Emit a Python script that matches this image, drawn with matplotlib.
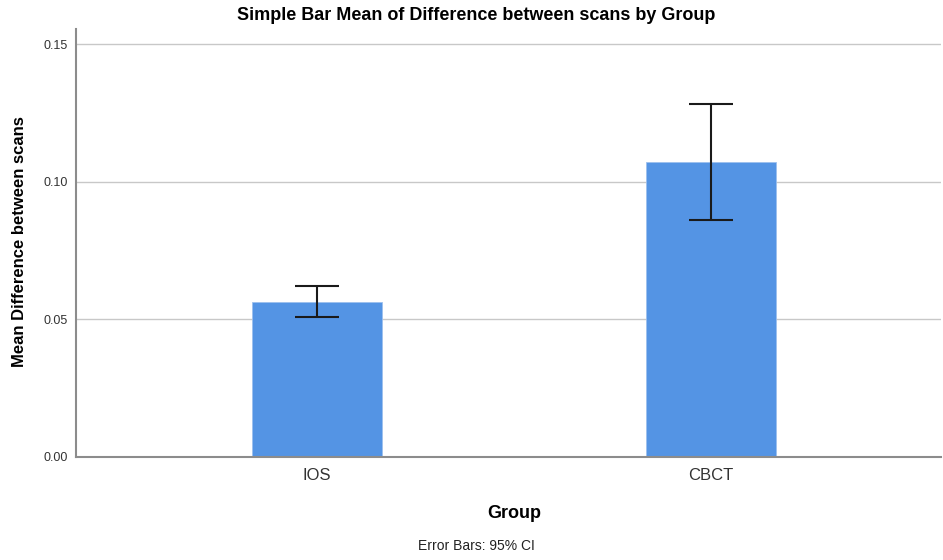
import matplotlib
matplotlib.use("Agg")
import matplotlib.pyplot as plt
import numpy as np

plt.rcParams['font.family'] = ['Liberation Sans', 'DejaVu Sans']

groups = ["IOS", "CBCT"]
means = [0.0563, 0.1072]
ci_lower = [0.0508, 0.0861]
ci_upper = [0.0621, 0.1282]
yticks = [0.00, 0.05, 0.10, 0.15]
ytick_labels = ["0.00", "0.05", "0.10", "0.15"]

W, H = 943, 560
fig = plt.figure(figsize=(W / 100, H / 100), dpi=100)
ax_l, ax_r, ax_b, ax_t = 76, 941, 456.7, 29.3
ax = fig.add_axes([ax_l / W, (H - ax_b) / H, (ax_r - ax_l) / W, (ax_b - ax_t) / H])

x = np.arange(len(groups))
means_a = np.array(means)
yerr = np.vstack([means_a - np.array(ci_lower), np.array(ci_upper) - means_a])

ax.bar(x, means, width=0.33, color="#5494E4", edgecolor="#9dc0ee", linewidth=0.6, zorder=2)
ax.errorbar(x, means, yerr=yerr, fmt="none", ecolor="#1a1a1a", elinewidth=1.5,
            capsize=15.5, capthick=1.5, zorder=3)

ax.set_xlim(-0.6104, 1.583)
ax.set_ylim(0, 0.1555)
ax.set_yticks(yticks)
ax.set_yticklabels(ytick_labels)
ax.set_xticks(x)
ax.set_xticklabels(groups)

ax.yaxis.grid(True, color="#c8c8c8", linewidth=1.0, zorder=0)
ax.set_axisbelow(True)
for s in ["top", "right"]:
    ax.spines[s].set_visible(False)
for s in ["left", "bottom"]:
    ax.spines[s].set_color("#8c8c8c")
    ax.spines[s].set_linewidth(1.5)

ax.tick_params(axis="y", length=0, pad=6, labelsize=9, labelcolor="#333333")
ax.tick_params(axis="x", length=0, pad=8, labelsize=12, labelcolor="#333333")

ax.set_ylabel("Mean Difference between scans", fontsize=12, fontweight="bold", va="center")
ax.yaxis.set_label_coords((20 - ax_l) / (ax_r - ax_l), (ax_b - 242) / (ax_b - ax_t))
ax.set_xlabel("Group", fontsize=13, fontweight="bold", va="center")
ax.xaxis.set_label_coords((514 - ax_l) / (ax_r - ax_l), (ax_b - 514) / (ax_b - ax_t))

fig.text(476 / W, (H - 16) / H, "Simple Bar Mean of Difference between scans by Group",
         ha="center", va="center", fontsize=13, fontweight="bold")
fig.text(476 / W, (H - 546) / H, "Error Bars: 95% CI", ha="center", va="center", fontsize=10,
         color="#222222")

fig.savefig("out.png", dpi=100)
